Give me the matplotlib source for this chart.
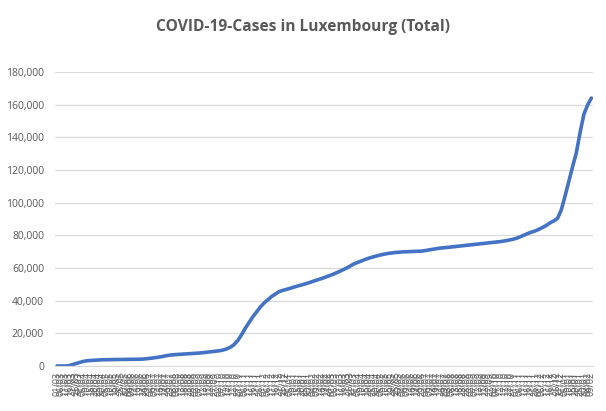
import numpy as np
import pandas as pd
import matplotlib
matplotlib.use('Agg')
import matplotlib.pyplot as plt
from matplotlib.ticker import FuncFormatter

# dates sampled every 5 days, 01/03/2020 .. 09/02/2022
dates = pd.date_range('2020-03-01', '2022-02-09', freq='5D')

cases_2020 = [0, 3, 7, 81, 798, 1453, 2178, 2804, 3223, 3373, 3550, 3700, 3802,
              3859, 3888, 3930, 3971, 3995, 4012, 4030, 4050, 4085, 4140, 4270,
              4480, 4750, 5050, 5400, 5800, 6300, 6650, 6900, 7050, 7200, 7350,
              7500, 7650, 7800, 7950, 8200, 8400, 8700, 9000, 9300, 9700, 10400,
              11400, 13000, 15500, 19000, 23000, 26500, 30000, 33000, 36000,
              38500, 40500, 42500, 44000, 45500, 46300, 46900]
cases_2021 = [47600, 48300, 49000, 49600, 50300, 51000, 51800, 52600, 53300,
              54100, 55000, 55800, 56800, 57800, 58900, 60000, 61300, 62600,
              63500, 64400, 65300, 66100, 66800, 67400, 68000, 68500, 68900,
              69200, 69500, 69700, 69850, 69950, 70050, 70100, 70200, 70350,
              70700, 71100, 71500, 71900, 72200, 72400, 72650, 72900, 73150,
              73400, 73650, 73900, 74150, 74400, 74650, 74900, 75150, 75400,
              75650, 75900, 76200, 76600, 77000, 77500, 78100, 79000, 80000,
              81000, 81900, 82600, 83600, 84800, 86000, 87600, 88800, 90400,
              95500]
cases_2022 = [104000, 113000, 122000, 130500, 143000, 154000, 159800, 164000]
cases = cases_2020 + cases_2021 + cases_2022

days = np.array([(d - dates[0]).days for d in dates])
labels = [d.strftime('%d/%m') for d in dates]

plt.rcParams['font.family'] = ['Open Sans', 'DejaVu Sans']
grey = '#595959'

fig = plt.figure(figsize=(6.06, 4.11), dpi=100)
ax = fig.add_axes([0.091, 0.1095, 0.888, 0.7155])

ax.plot(days, cases, color='#4472C4', linewidth=2.6, solid_capstyle='round')

ax.set_ylim(0, 180000)
ax.set_xlim(-2.5, 712.5)
ax.set_yticks(np.arange(0, 180001, 20000))
ax.yaxis.set_major_formatter(FuncFormatter(lambda v, p: f'{int(v):,}'))
ax.grid(axis='y', color='#D9D9D9', linewidth=0.9)
ax.set_axisbelow(True)

ax.set_xticks(days)
ax.set_xticklabels(labels, rotation=90, fontsize=6.5, color=grey)
ax.tick_params(axis='y', labelsize=7.5, labelcolor=grey, length=0, pad=8)
ax.tick_params(axis='x', length=0, pad=4)

for s in ['top', 'right', 'left']:
    ax.spines[s].set_visible(False)
ax.spines['bottom'].set_color('#D9D9D9')

fig.text(0.5, 0.935, 'COVID-19-Cases in Luxembourg (Total)', ha='center', va='center',
         fontsize=11.2, fontweight='bold', color=grey)

fig.savefig('out.png', dpi=100)
